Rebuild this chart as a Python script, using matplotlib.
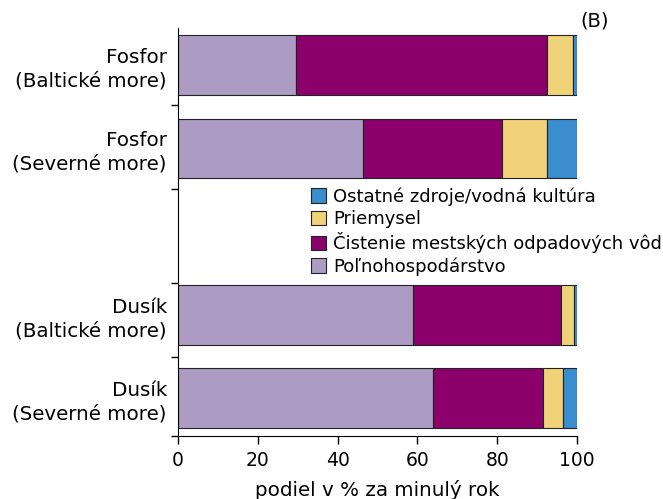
import numpy as np
import matplotlib.pyplot as plt
from matplotlib.patches import Patch

# podiel zdrojov (%), poradie: Fosfor Baltik, Fosfor Severné, Dusík Baltik, Dusík Severné
labels = ["Fosfor\n(Baltické more)", "Fosfor\n(Severné more)",
          "Dusík\n(Baltické more)", "Dusík\n(Severné more)"]
ypos = [4, 3, 1, 0]

polnohospodarstvo = [29.6, 46.4, 59.0, 64.0]
cistenie = [62.9, 34.9, 36.9, 27.4]
priemysel = [6.6, 11.2, 3.4, 5.2]
ostatne = [0.9, 7.5, 0.7, 3.4]

nazvy = ["Poľnohospodárstvo", "Čistenie mestských odpadových vôd",
         "Priemysel", "Ostatné zdroje/vodná kultúra"]
farby = ["#ac9cc4", "#8c006c", "#f0d279", "#3a8dce"]

plt.rcParams['font.family'] = ['DejaVu Sans']

fig = plt.figure(figsize=(6.63, 4.99), dpi=100)
ax = fig.add_axes([0.2685, 0.1263, 0.6018, 0.8176])

left = np.zeros(len(ypos))
for vals, nazov, farba in zip([polnohospodarstvo, cistenie, priemysel, ostatne], nazvy, farby):
    ax.barh(ypos, vals, left=left, height=0.72, color=farba,
            edgecolor="#222222", linewidth=0.8, label=nazov)
    left += np.array(vals)

ax.set_xlim(0, 100)
ax.set_ylim(-0.46, 4.45)
ax.set_xticks([0, 20, 40, 60, 80, 100])
ax.set_xticklabels([0, 20, 40, 60, 80, 100], fontsize=13.5)
ax.set_yticks(ypos)
ax.set_yticklabels(labels, ha="right", multialignment="right", fontsize=14.3,
                   linespacing=1.3)
ax.tick_params(axis="y", length=0, pad=8)
ax.set_yticks([-0.46, 0.49, 1.38, 2.51, 3.52], minor=True)
ax.tick_params(axis="y", which="minor", length=5, width=1)
ax.tick_params(axis="x", length=6, width=1, pad=5)
ax.spines["top"].set_visible(False)
ax.spines["right"].set_visible(False)
ax.set_xlabel("podiel v % za minulý rok", fontsize=14.3, labelpad=7)

handles = [Patch(facecolor=f, edgecolor="#222222", linewidth=0.8) for f in farby][::-1]
ax.legend(handles, nazvy[::-1], loc="upper left", bbox_to_anchor=(0.315, 0.627),
          frameon=False, handlelength=0.85, handleheight=0.85, handletextpad=0.4,
          labelspacing=0.23, borderaxespad=0, fontsize=13)

fig.text(0.897, 0.958, "(B)", ha="center", va="center", fontsize=14)

fig.savefig("out.png", dpi=100)
